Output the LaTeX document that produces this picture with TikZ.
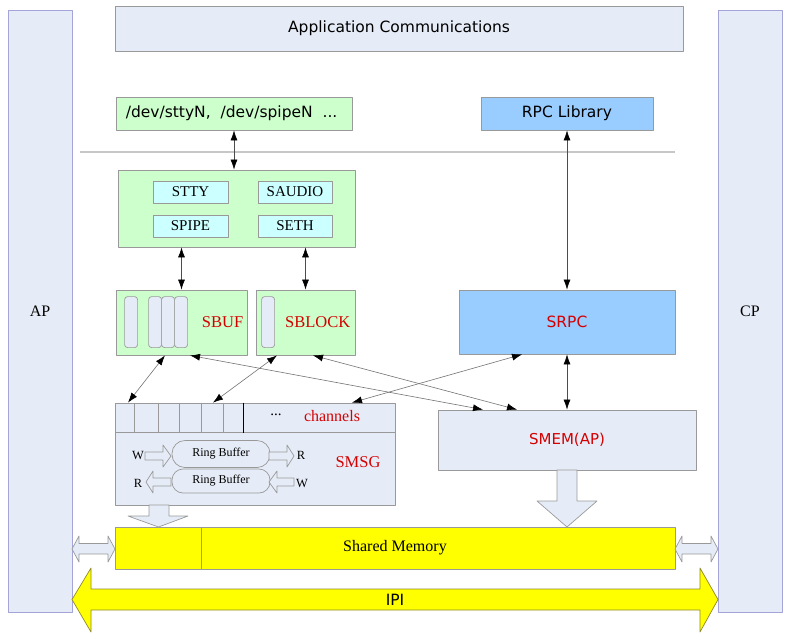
\documentclass[tikz,border=0pt]{standalone}
\usepackage{fontspec}
\setmainfont{Liberation Serif}
\newfontfamily\sansfont{DejaVu Sans}
\usetikzlibrary{arrows.meta}
\definecolor{sgreen}{HTML}{CCFFCC}
\definecolor{scyan}{HTML}{CCFFFF}
\definecolor{sblue}{HTML}{99CCFF}
\definecolor{spale}{HTML}{E6ECF7}
\definecolor{sside}{HTML}{A4A4D8}
\definecolor{sred}{HTML}{D40000}
\definecolor{sgray}{HTML}{999999}
\definecolor{syellow}{HTML}{FFFF00}
\newcommand{\fs}[1]{\fontsize{#1}{#1}\selectfont}
\begin{document}
\begin{tikzpicture}[x=1pt, y=-1pt, line join=round,
	box/.style={draw=sgray, line width=.8pt, inner sep=0pt},
	sub/.style={box, fill=scyan, minimum width=75, minimum height=22, font=\fs{15}},
	slot/.style={draw=sgray, line width=.7pt, fill=spale, rounded corners=3pt},
	redlbl/.style={text=sred, inner sep=0pt},
	barrow/.style={draw=sgray, line width=.7pt, fill=spale},
	link/.style={draw=gray!90!black, line width=.6pt,
		{Latex[length=10pt,width=7pt,color=black]}-{Latex[length=10pt,width=7pt,color=black]}},
	vlink/.style={link, draw=black!70}]
\useasboundingbox (0,0) rectangle (792,640);
% side columns
\node[box, draw=sside, fill=spale, minimum width=64, minimum height=602, font=\fs{16}] (ap) at (40,311) {AP};
\node[box, draw=sside, fill=spale, minimum width=64, minimum height=602, font=\fs{16}] (cp) at (750,311) {CP};
% user space
\node[box, fill=spale, minimum width=568, minimum height=45, font=\sansfont\fs{15.5}] (app) at (399,28.5) {Application Communications};
\node[box, fill=sgreen, minimum width=236, minimum height=33] (dev) at (234,113.5) {};
\node[anchor=west, inner sep=0pt, font=\sansfont\fs{15.5}] (devtxt) at ([xshift=10]dev.west) {/dev/sttyN,~ /dev/spipeN~ ...};
\node[box, fill=sblue, minimum width=172, minimum height=33, font=\sansfont\fs{15.5}] (rpclib) at (567,113.5) {RPC Library};
\draw[sgray!55, line width=1.2pt] (80,152) -- (675,152);
% drivers
\node[box, fill=sgreen, minimum width=237, minimum height=77] (sdev) at (236.5,208.5) {};
\node[sub] (stty) at (190.5,192) {STTY};
\node[sub, minimum width=74] (saudio) at (295,192) {SAUDIO};
\node[sub] (spipe) at (190.5,226) {SPIPE};
\node[sub, minimum width=74] (seth) at (295,226) {SETH};
% sipc modules
\node[box, fill=sgreen, minimum width=131, minimum height=65] (sbuf) at (181.5,322.5) {};
\foreach \x in {9,33,46,59}
	\draw[slot] ([shift={(\x,7)}]sbuf.north west) rectangle ++(13,51);
\node[redlbl, anchor=east, font=\fs{16.5}] at ([xshift=-4]sbuf.east) {SBUF};
\node[box, fill=sgreen, minimum width=99, minimum height=65] (sblock) at (305.5,322.5) {};
\draw[slot] ([shift={(6,7)}]sblock.north west) rectangle ++(13,51);
\node[redlbl, anchor=east, font=\fs{16.5}] at ([xshift=-5]sblock.east) {SBLOCK};
\node[box, fill=sblue, minimum width=216, minimum height=64, text=sred, font=\sansfont\fs{15.5}] (srpc) at (567,322) {SRPC};
% smsg
\node[box, fill=spale, minimum width=280, minimum height=102] (smsg) at (255,454) {};
\draw[sgray, line width=.8pt] ([shift={(0,30)}]smsg.north west) -- ([shift={(0,30)}]smsg.north east);
\foreach \x in {20,44,65,87,109}
	\draw[sgray, line width=.8pt] ([xshift=\x]smsg.north west) -- ++(0,30);
\draw[black, line width=.9pt] ([xshift=129]smsg.north west) -- ++(0,30);
\node[font=\fs{15}] at (276,415) {...};
\node[redlbl, font=\fs{16}] at (332,416) {channels};
\node[redlbl, font=\fs{16.5}] at (358,462) {SMSG};
\node[draw=sgray, line width=.7pt, rounded corners=13pt, minimum width=98, minimum height=27, inner sep=0pt, font=\fs{12}] (ring1) at (221,454) {Ring Buffer};
\node[draw=sgray, line width=.7pt, rounded corners=11pt, minimum width=98, minimum height=24, inner sep=0pt, font=\fs{12}] (ring2) at (221,481) {Ring Buffer};
\draw[barrow] (145,452) -- (163,452) -- (163,445) -- (171,456) -- (163,467) -- (163,460) -- (145,460) -- cycle;
\draw[barrow] (269,452) -- (287,452) -- (287,445) -- (294,456) -- (287,467) -- (287,460) -- (269,460) -- cycle;
\draw[barrow] (171,478) -- (153,478) -- (153,471) -- (146,482) -- (153,493) -- (153,486) -- (171,486) -- cycle;
\draw[barrow] (294,478) -- (277,478) -- (277,471) -- (269,482) -- (277,493) -- (277,486) -- (294,486) -- cycle;
\node[font=\fs{12.5}] at (138,455) {W};
\node[font=\fs{12.5}] at (301,455) {R};
\node[font=\fs{12.5}] at (138,483) {R};
\node[font=\fs{12.5}] at (302,483) {W};
% smem
\node[box, fill=spale, minimum width=258, minimum height=60, text=sred, font=\sansfont\fs{15}] (smem) at (567,440) {SMEM(AP)};
% shared memory
\node[box, fill=syellow, minimum width=560, minimum height=42, font=\fs{16}] (shm) at (395,548) {Shared Memory};
\draw[sgray, line width=.6pt] ([xshift=87]shm.north west) -- ([xshift=87]shm.south west);
\draw[barrow] (149,505) -- (169,505) -- (169,516) -- (188,516) -- (158.5,527) -- (128,516) -- (149,516) -- cycle;
\draw[barrow] (557,470) -- (577,470) -- (577,501) -- (597,501) -- (567,527) -- (537,501) -- (557,501) -- cycle;
\draw[barrow] (72,549) -- (79,536) -- (79,543.5) -- (108,543.5) -- (108,536) -- (115,549) -- (108,562) -- (108,554) -- (79,554) -- (79,562) -- cycle;
\draw[barrow] (675,549) -- (682,536) -- (682,543.5) -- (711,543.5) -- (711,536) -- (718,549) -- (711,562) -- (711,554) -- (682,554) -- (682,562) -- cycle;
% ipi
\draw[draw=olive!70!gray, line width=.7pt, fill=syellow] (72,599.5) -- (91,568) -- (91,589) -- (700,589) -- (700,568) -- (718,599.5) -- (700,632) -- (700,610) -- (91,610) -- (91,632) -- cycle;
\node[font=\sansfont\fs{15.5}] (ipi) at (395,600) {IPI};
% links
\draw[vlink] (dev.south) -- (dev.south |- sdev.north);
\draw[vlink] (rpclib.south) -- (srpc.north);
\draw[vlink] (sbuf.north |- sdev.south) -- (sbuf.north);
\draw[vlink] (sblock.north |- sdev.south) -- (sblock.north);
\draw[vlink] (srpc.south) -- (smem.north);
\draw[link] ([xshift=-16.5]sbuf.south) -- ([xshift=-127]smsg.north);
\draw[link] ([xshift=-28.5]sblock.south) -- ([xshift=-42]smsg.north);
\draw[link] ([xshift=8.5]sbuf.south) -- ([xshift=-84]smem.north);
\draw[link] ([xshift=7.5]sblock.south) -- ([xshift=-50]smem.north);
\draw[link] ([xshift=-45]srpc.south) -- ([xshift=97]smsg.north);
\end{tikzpicture}
\end{document}
